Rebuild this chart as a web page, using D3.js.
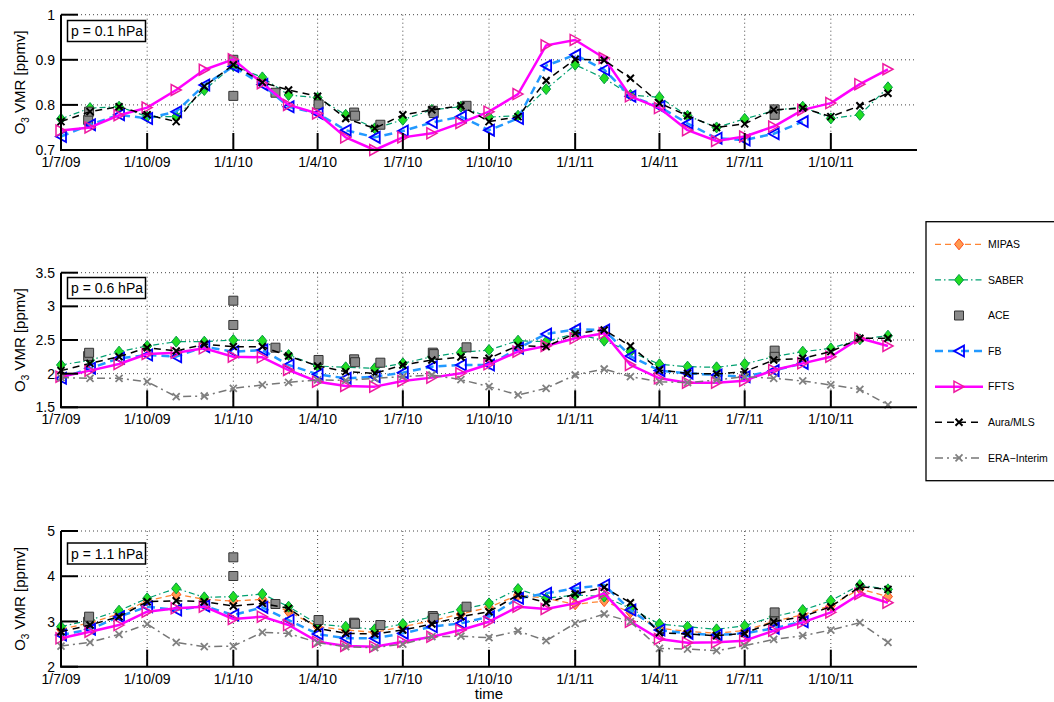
<!DOCTYPE html>
<html><head><meta charset="utf-8">
<script src="https://cdn.jsdelivr.net/npm/d3@7"></script>
<style>body{margin:0;background:#fff}svg text{font-family:"Liberation Sans",Arial,Helvetica,sans-serif;fill:#000}</style>
</head><body><svg id="c" width="1054" height="702"></svg>
<script>
// ---------------- DATA ----------------
const months = ["2009-07-01","2009-08-01","2009-09-01","2009-10-01","2009-11-01","2009-12-01",
  "2010-01-01","2010-02-01","2010-03-01","2010-04-01","2010-05-01","2010-06-01",
  "2010-07-01","2010-08-01","2010-09-01","2010-10-01","2010-11-01","2010-12-01",
  "2011-01-01","2011-02-01","2011-03-01","2011-04-01","2011-05-01","2011-06-01",
  "2011-07-01","2011-08-01","2011-09-01","2011-10-01","2011-11-01","2011-12-01"];
const tickDates = ["2009-07-01","2009-10-01","2010-01-01","2010-04-01","2010-07-01","2010-10-01",
  "2011-01-01","2011-04-01","2011-07-01","2011-10-01"];
const tickLabels = ["1/7/09","1/10/09","1/1/10","1/4/10","1/7/10","1/10/10","1/1/11","1/4/11","1/7/11","1/10/11"];
const seriesNames = ["MIPAS","SABER","ACE","FB","FFTS","Aura/MLS","ERA\u2212Interim"];
const panelLabels = ["p = 0.1 hPa","p = 0.6 hPa","p = 1.1 hPa"];
const yTicks01 = [0.7,0.8,0.9,1];
const yTicks06 = [1.5,2,2.5,3,3.5];
const yTicks11 = [2,3,4,5];
const yTickLabels01 = ["0.7","0.8","0.9","1"];
const yTickLabels06 = ["1.5","2","2.5","3","3.5"];
const yTickLabels11 = ["2","3","4","5"];

// p = 0.1 hPa
const saber01 = [0.769,0.793,0.796,0.774,0.774,0.833,0.887,0.861,0.822,0.816,0.778,0.748,0.767,0.789,0.796,0.773,0.776,0.835,0.889,0.859,0.822,0.817,0.776,0.750,0.769,0.787,0.796,0.770,0.778,0.839];
const fb01 = [0.730,0.756,0.778,0.770,0.785,0.844,0.885,0.845,0.796,0.781,0.744,0.728,0.742,0.761,0.774,0.744,0.770,0.887,0.911,0.878,0.819,0.796,0.759,0.726,0.722,0.736,0.763,null,null,null];
const ffts01 = [0.743,0.750,0.777,0.794,0.833,0.878,0.901,0.848,0.800,0.781,0.728,0.700,0.728,0.737,0.760,0.785,0.824,0.932,0.944,0.904,0.819,0.793,0.744,0.720,0.730,0.752,0.789,0.804,0.846,0.879];
const mls01 = [0.763,0.785,0.796,0.778,0.763,0.841,0.889,0.850,0.833,0.819,0.770,0.748,0.778,0.789,0.798,0.763,0.774,0.854,0.901,0.899,0.859,0.804,0.776,0.750,0.758,0.789,0.793,0.774,0.798,0.826];

// p = 0.6 hPa
const saber06 = [2.129,2.200,2.327,2.411,2.475,2.475,2.500,2.490,2.277,2.114,2.094,2.079,2.153,2.252,2.315,2.351,2.490,2.475,2.599,2.490,2.327,2.139,2.104,2.094,2.144,2.252,2.327,2.376,2.510,2.564];
const fb06 = [1.931,2.079,2.228,2.277,2.252,2.401,2.327,2.351,2.129,1.990,1.931,1.955,2.015,2.104,2.129,2.129,2.376,2.589,2.658,2.649,2.262,2.045,2.005,1.980,1.955,2.045,2.153,null,null,null];
const ffts06 = [1.955,2.045,2.144,2.292,2.312,2.376,2.252,2.243,2.054,1.881,1.817,1.807,1.891,1.941,2.005,2.139,2.327,2.411,2.525,2.599,2.129,1.931,1.866,1.866,1.896,2.054,2.153,2.252,2.525,2.411];
const mls06 = [2.045,2.153,2.252,2.386,2.337,2.436,2.401,2.401,2.262,2.114,2.030,2.005,2.129,2.203,2.248,2.228,2.416,2.401,2.599,2.649,2.411,2.054,2.005,1.995,2.030,2.203,2.228,2.327,2.525,2.525];
const era06 = [1.941,1.931,1.931,1.881,1.658,1.668,1.782,1.832,1.871,1.906,1.900,1.931,1.955,1.980,1.911,1.807,1.683,1.782,1.980,2.069,1.955,1.881,1.866,1.906,1.955,1.931,1.891,1.832,1.767,1.535];

// p = 1.1 hPa
const mipas11 = [2.826,2.973,3.165,3.459,3.600,3.489,3.452,3.489,3.216,2.885,2.811,2.759,2.885,3.017,3.165,3.312,3.585,3.511,3.380,3.450,3.200,2.850,2.780,2.740,2.800,3.000,3.150,3.350,3.720,3.550];
const saber11 = [2.885,3.032,3.238,3.511,3.732,3.533,3.548,3.607,3.327,2.943,2.885,2.826,2.943,3.106,3.260,3.400,3.717,3.511,3.585,3.550,3.290,2.943,2.885,2.826,2.907,3.106,3.253,3.459,3.806,3.710];
const fb11 = [2.700,2.826,3.106,3.327,3.253,3.341,3.142,3.312,3.032,2.722,2.627,2.627,2.737,2.885,2.958,3.106,3.511,3.622,3.732,3.806,3.253,2.811,2.737,2.700,2.737,2.848,2.995,null,null,null];
const ffts11 = [2.627,2.774,2.921,3.216,3.290,3.327,3.054,3.106,2.921,2.553,2.457,2.442,2.553,2.663,2.811,2.995,3.327,3.275,3.400,3.622,2.995,2.612,2.531,2.538,2.575,2.796,2.980,3.201,3.607,3.415];
const mls11 = [2.774,2.921,3.106,3.437,3.459,3.437,3.341,3.400,3.290,2.848,2.737,2.722,2.811,2.943,3.106,3.216,3.585,3.415,3.607,3.754,3.415,2.752,2.722,2.685,2.737,2.995,3.106,3.327,3.769,3.710];
const era11 = [2.457,2.538,2.715,2.943,2.538,2.442,2.457,2.759,2.737,2.531,2.442,2.420,2.501,2.663,2.674,2.641,2.789,2.575,2.958,3.165,2.995,2.405,2.390,2.354,2.464,2.604,2.685,2.811,2.973,2.538];

// ACE occultation points (own dates)
const aceDates = ["2009-07-30","2009-07-31","2010-01-01","2010-01-01","2010-02-15","2010-04-02","2010-05-10","2010-05-11",
  "2010-06-07","2010-08-02","2010-08-03","2010-09-07","2011-08-02","2011-08-02"];
const ace01 = [0.767,0.785,0.900,0.820,0.827,0.801,0.783,0.776,0.756,0.787,0.782,0.798,0.790,0.778];
const ace06 = [2.262,2.310,3.084,2.723,2.386,2.203,2.213,2.170,2.163,2.312,2.290,2.391,2.342,2.250];
const ace11 = [2.995,3.106,4.418,4.005,3.386,3.032,2.973,2.950,2.921,3.120,3.080,3.327,3.200,3.000];

// ---------------- STYLE / LAYOUT ----------------
const styles = {
  "MIPAS":{line:"#ff8533",width:1.3,dash:"6,4",marker:"diamond",fill:"#ff9a50",stroke:"#ff4a1a",sw:1},
  "SABER":{line:"#00a070",width:1.2,dash:"6,3,1.5,3",marker:"diamond",fill:"#22dd22",stroke:"#009944",sw:1},
  "ACE":{line:null,marker:"square",fill:"#8a8a8a",stroke:"#333",sw:1},
  "FB":{line:"#2299ff",width:2.5,dash:"8,5",marker:"tleft",fill:"none",stroke:"#0000ff",sw:1.8},
  "FFTS":{line:"#ff00ff",width:2.5,dash:null,marker:"tright",fill:"none",stroke:"#ee1aa0",sw:1.5},
  "Aura/MLS":{line:"#000",width:1.5,dash:"7,5",marker:"x",fill:"none",stroke:"#000",sw:2},
  "ERA\u2212Interim":{line:"#777",width:1.5,dash:"8,4,2,4",marker:"x",fill:"none",stroke:"#808080",sw:1.8}
};
const markerPath = {
  diamond:"M0,-5.5L4.5,0L0,5.5L-4.5,0Z",
  square:"M-4.5,-4.5h9v9h-9Z",
  tleft:"M-5,0L5,-5.5L5,5.5Z",
  tright:"M5,0L-5,-5.5L-5,5.5Z",
  x:"M-3.5,-3.5L3.5,3.5M-3.5,3.5L3.5,-3.5"
};

const parse = d3.utcParse("%Y-%m-%d");
const X0 = 61, X1 = 917;
const x = d3.scaleUtc().domain([parse("2009-07-01"), parse("2012-01-01")]).range([X0, X1]);

const panels = [
  {label:panelLabels[0], top:14.7, bottom:150, domain:[0.7,1], ticks:yTicks01, tickLabels:yTickLabels01, boxTop:20.5,
   series:[["SABER",saber01],["ACE",ace01],["FB",fb01],["FFTS",ffts01],["Aura/MLS",mls01]]},
  {label:panelLabels[1], top:272.7, bottom:407.3, domain:[1.5,3.5], ticks:yTicks06, tickLabels:yTickLabels06, boxTop:277.5,
   series:[["SABER",saber06],["ACE",ace06],["FB",fb06],["FFTS",ffts06],["Aura/MLS",mls06],["ERA\u2212Interim",era06]]},
  {label:panelLabels[2], top:531, bottom:666.7, domain:[2,5], ticks:yTicks11, tickLabels:yTickLabels11, boxTop:543,
   series:[["MIPAS",mipas11],["SABER",saber11],["ACE",ace11],["FB",fb11],["FFTS",ffts11],["Aura/MLS",mls11],["ERA\u2212Interim",era11]]}
];

const svg = d3.select("#c");
const monthDates = months.map(parse);
const aceD = aceDates.map(parse);
const tickD = tickDates.map(parse);

function drawMarkers(g, pts, st) {
  g.selectAll(null).data(pts).enter().append("path")
    .attr("d", markerPath[st.marker])
    .attr("transform", d => `translate(${d[0]},${d[1]})`)
    .attr("fill", st.fill).attr("stroke", st.stroke).attr("stroke-width", st.sw);
}

panels.forEach(p => {
  const y = d3.scaleLinear().domain(p.domain).range([p.bottom, p.top]);
  const g = svg.append("g");
  // grid
  g.selectAll(null).data(tickD.slice(1)).enter().append("line")
    .attr("x1", d => x(d)).attr("x2", d => x(d)).attr("y1", p.top).attr("y2", p.bottom)
    .attr("stroke", "#444").attr("stroke-width", 1).attr("stroke-dasharray", "1,3");
  g.selectAll(null).data(p.ticks.slice(1)).enter().append("line")
    .attr("x1", X0).attr("x2", X1).attr("y1", d => y(d)).attr("y2", d => y(d))
    .attr("stroke", "#444").attr("stroke-width", 1).attr("stroke-dasharray", "1,3");

  // series
  p.series.forEach(([name, vals]) => {
    const st = styles[name];
    const sg = g.append("g");
    if (name === "ACE") {
      const pts = vals.map((v, i) => [x(aceD[i]), y(v)]);
      drawMarkers(sg, pts, st);
      return;
    }
    const data = vals.map((v, i) => [monthDates[i], v]);
    const line = d3.line().defined(d => d[1] != null).x(d => x(d[0])).y(d => y(d[1]));
    sg.append("path").attr("d", line(data)).attr("fill", "none")
      .attr("stroke", st.line).attr("stroke-width", st.width)
      .attr("stroke-dasharray", st.dash).attr("stroke-linejoin", "round");
    const pts = data.filter(d => d[1] != null).map(d => [x(d[0]), y(d[1])]);
    drawMarkers(sg, pts, st);
  });

  // axes
  g.append("line").attr("x1", X0).attr("x2", X0).attr("y1", p.top).attr("y2", p.bottom)
    .attr("stroke", "#000").attr("stroke-width", 2);
  g.append("line").attr("x1", X0 - 1).attr("x2", X1).attr("y1", p.bottom).attr("y2", p.bottom)
    .attr("stroke", "#000").attr("stroke-width", 2);
  g.selectAll(null).data(tickD).enter().append("line")
    .attr("x1", d => x(d)).attr("x2", d => x(d)).attr("y1", p.bottom).attr("y2", p.bottom - 17)
    .attr("stroke", "#000").attr("stroke-width", 2);
  g.selectAll(null).data(p.ticks).enter().append("line")
    .attr("x1", X0).attr("x2", X0 + 17).attr("y1", d => y(d)).attr("y2", d => y(d))
    .attr("stroke", "#000").attr("stroke-width", 2);
  g.selectAll(null).data(tickD).enter().append("text")
    .attr("x", d => x(d)).attr("y", p.bottom + 17).attr("text-anchor", "middle")
    .attr("font-size", 14).text((d, i) => tickLabels[i]);
  g.selectAll(null).data(p.ticks).enter().append("text")
    .attr("x", 55).attr("y", d => y(d)).attr("dy", "0.36em").attr("text-anchor", "end")
    .attr("font-size", 14).text((d, i) => p.tickLabels[i]);

  // y label
  const yl = g.append("text").attr("transform", `translate(25,${(p.top + p.bottom) / 2}) rotate(-90)`)
    .attr("text-anchor", "middle").attr("font-size", 15);
  yl.append("tspan").text("O");
  yl.append("tspan").attr("dy", 4).attr("font-size", 10).text("3");
  yl.append("tspan").attr("dy", -4).text(" VMR [ppmv]");

  // annotation box
  g.append("rect").attr("x", 67.5).attr("y", p.boxTop).attr("width", 78).attr("height", 21)
    .attr("fill", "#fff").attr("stroke", "#000").attr("stroke-width", 1.5);
  g.append("text").attr("x", 71).attr("y", p.boxTop + 15.5).attr("font-size", 14).text(p.label);
});

// x label
svg.append("text").attr("x", (X0 + X1) / 2).attr("y", 699).attr("text-anchor", "middle")
  .attr("font-size", 15).text("time");

// legend
const lg = svg.append("g");
lg.append("rect").attr("x", 926).attr("y", 221.7).attr("width", 140).attr("height", 259)
  .attr("fill", "#fff").attr("stroke", "#000").attr("stroke-width", 1.3);
seriesNames.forEach((name, i) => {
  const st = styles[name];
  const cy = 244.3 + i * 35.6;
  const eg = lg.append("g");
  if (st.line) {
    eg.append("line").attr("x1", 935).attr("x2", 983).attr("y1", cy).attr("y2", cy)
      .attr("stroke", st.line).attr("stroke-width", st.width).attr("stroke-dasharray", st.dash);
  }
  drawMarkers(eg, [[959, cy]], st);
  eg.append("text").attr("x", 988).attr("y", cy).attr("dy", "0.36em").attr("font-size", 10.5).text(name);
});
</script></body></html>
